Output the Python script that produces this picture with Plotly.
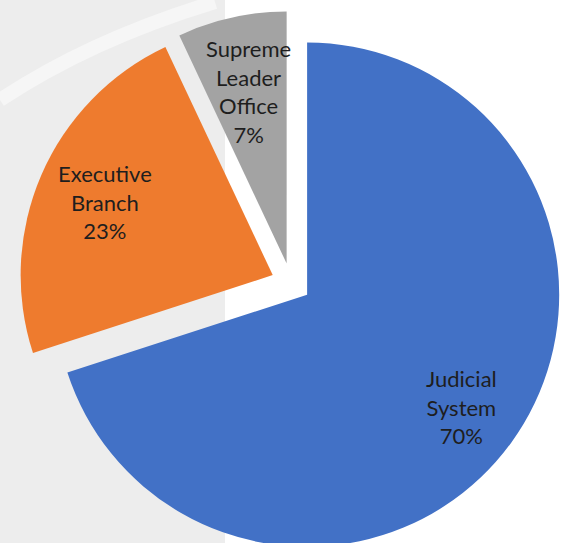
import math
import plotly.graph_objects as go

# ---- data ----
categories = ["Judicial<br>System", "Executive<br>Branch", "Supreme<br>Leader<br>Office"]
shares = [70, 23, 7]

# ---- style ----
slice_colors = ["#4271C6", "#EE7B2E", "#A3A3A3"]
label_radius = [0.756, 0.727, 0.70]   # label distance from slice tip, as fraction of radius
PULL = 0.079
W, H = 563, 566          # window is 563x543; the pie's bottom edge is cropped as in the reference
DOM_X = [19 / W, 1.0]
DOM_Y = [1 - 555 / H, 1 - 11 / H]
FONT = "Lato"
FONT_SIZE = 22
TEXT_COLOR = "#1e1e1e"

fig = go.Figure()

# faint watermark-like background
fig.add_shape(type="rect", xref="paper", yref="paper",
              x0=0, x1=225 / W, y0=0, y1=1,
              fillcolor="#EDEDED", line=dict(width=0), layer="below")
fig.add_shape(type="path", xref="paper", yref="paper",
              path=f"M 0,{1-100/H} Q {90/W},{1-40/H} {215/W},{1-2/H}",
              line=dict(color="#F6F6F6", width=14), layer="below")

fig.add_trace(go.Pie(
    labels=categories,
    values=shares,
    sort=False,
    direction="clockwise",
    rotation=0,
    pull=[PULL] * len(shares),
    marker=dict(colors=slice_colors, line=dict(width=0)),
    textinfo="none",
    hoverinfo="label+percent",
    showlegend=False,
    domain=dict(x=DOM_X, y=DOM_Y),
))

# labels placed along each slice's bisector (computed from the shares)
dom_w = (DOM_X[1] - DOM_X[0]) * W
dom_h = (DOM_Y[1] - DOM_Y[0]) * H
cx = (DOM_X[0] + DOM_X[1]) / 2 * W          # pixels from left
cy = (1 - (DOM_Y[0] + DOM_Y[1]) / 2) * H    # pixels from top
r = min(dom_w, dom_h) / 2 / (1 + PULL)
total = sum(shares)
cum = 0.0
for name, v, k in zip(categories, shares, label_radius):
    mid = (cum + v / 2) / total * 2 * math.pi   # clockwise from 12 o'clock
    cum += v
    dx, dy = math.sin(mid), -math.cos(mid)
    px = cx + (PULL + k) * r * dx
    py = cy + (PULL + k) * r * dy
    pct = round(v / total * 100)
    fig.add_annotation(
        x=px / W, y=1 - py / H, xref="paper", yref="paper",
        xanchor="center", yanchor="middle",
        text=f"{name}<br>{pct}%", showarrow=False,
        font=dict(family=FONT, size=FONT_SIZE, color=TEXT_COLOR),
        align="center",
    )

fig.update_layout(
    width=W, height=H,
    margin=dict(l=0, r=0, t=0, b=0),
    paper_bgcolor="#FFFFFF",
    plot_bgcolor="#FFFFFF",
)

fig.write_html("out.html", config={"displayModeBar": False},
               post_script="document.body.style.margin='0px';document.body.style.overflow='hidden';")
